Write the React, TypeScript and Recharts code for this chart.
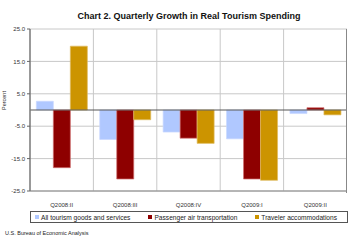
import React from 'react';
import {
  BarChart, Bar, XAxis, YAxis, CartesianGrid, ReferenceLine, Legend
} from 'recharts';

const quarters = ['Q2008:II', 'Q2008:III', 'Q2008:IV', 'Q2009:I', 'Q2009:II'];
const allTourism = [2.7, -9.1, -6.8, -8.9, -1.1];
const airTransport = [-17.8, -21.3, -8.7, -21.3, 0.7];
const accommodations = [19.7, -3.0, -10.3, -21.7, -1.5];
const yTicks = [25, 15, 5, -5, -15, -25];

const data = quarters.map((q, i) => ({
  quarter: q,
  all: allTourism[i],
  air: airTransport[i],
  hotel: accommodations[i],
}));

const SERIES = [
  { key: 'all', name: 'All tourism goods and services', color: '#B0C8FF', stroke: '#C8D8FF' },
  { key: 'air', name: 'Passenger air transportation', color: '#8E0000', stroke: '#D07070' },
  { key: 'hotel', name: 'Traveler accommodations', color: '#CC9400', stroke: '#E0BC60' },
];

const FONT = '"Liberation Sans", Arial, sans-serif';

const LegendBox = () => (
  <div style={{
    border: '1px solid #555', height: 12, display: 'flex', alignItems: 'center',
    justifyContent: 'space-between', fontSize: 6.6, color: '#222', fontFamily: FONT,
    boxSizing: 'border-box', padding: '0 10px 0 4px'
  }}>
    {SERIES.map(s => (
      <span key={s.key} style={{ display: 'flex', alignItems: 'center' }}>
        <span style={{ width: 4, height: 4, background: s.color, display: 'inline-block', marginRight: 2 }} />
        {s.name}
      </span>
    ))}
  </div>
);

export default function App() {
  return (
    <div style={{ position: 'absolute', left: 0, top: 0, width: 355, height: 242, background: '#fff', fontFamily: FONT }}>
      <div style={{ position: 'absolute', top: 11, left: 30, width: 318, textAlign: 'center', fontSize: 9, fontWeight: 'bold', color: '#111' }}>
        Chart 2. Quarterly Growth in Real Tourism Spending
      </div>
      <BarChart
        width={355}
        height={242}
        data={data}
        margin={{ top: 29, right: 8, bottom: 19, left: 0 }}
        barCategoryGap="10%"
        barGap={0}
      >
        <CartesianGrid
          stroke="#c8c8c8"
          verticalCoordinatesGenerator={({ offset }: any) =>
            quarters.slice(1).map((_, i) => offset.left + (offset.width * (i + 1)) / quarters.length)
          }
        />
        <XAxis
          dataKey="quarter"
          height={20}
          tick={{ fontSize: 6, fill: '#333' }}
          tickLine={false}
          axisLine={{ stroke: '#888' }}
          tickMargin={6}
        />
        <YAxis
          width={30}
          domain={[-25, 25]}
          ticks={yTicks}
          tickFormatter={(v: number) => v.toFixed(1)}
          tick={{ fontSize: 6, fill: '#333' }}
          tickLine={{ stroke: '#666' }}
          tickSize={3}
          axisLine={{ stroke: '#777', strokeWidth: 1.5 }}
          label={{ value: 'Percent', angle: -90, position: 'insideLeft', offset: 4, style: { fontSize: 5.5, fill: '#333' } }}
        />
        <ReferenceLine y={0} stroke="#555" />
        {SERIES.map(s => (
          <Bar key={s.key} dataKey={s.key} name={s.name} fill={s.color} stroke={s.stroke} strokeWidth={0.7} isAnimationActive={false} />
        ))}
        <Legend
          verticalAlign="bottom"
          content={() => <LegendBox />}
          wrapperStyle={{ left: 30, width: 318, bottom: 19 }}
        />
      </BarChart>
      <div style={{ position: 'absolute', top: 230, left: 5, fontSize: 5.5, color: '#222' }}>
        U.S. Bureau of Economic Analysis
      </div>
      <div style={{ position: 'absolute', top: 29, left: 346, width: 1, height: 164, background: '#888' }} />
    </div>
  );
}
